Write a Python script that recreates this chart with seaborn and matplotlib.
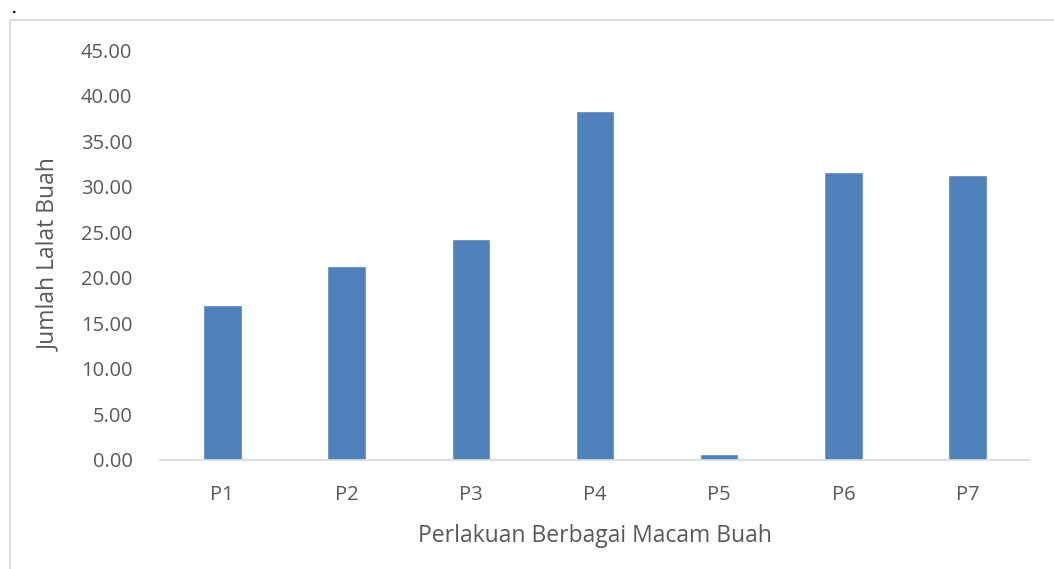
import matplotlib
matplotlib.use("Agg")
import matplotlib.pyplot as plt
from matplotlib.lines import Line2D
import seaborn as sns
import pandas as pd

# data
perlakuan = ["P1", "P2", "P3", "P4", "P5", "P6", "P7"]
jumlah = [17.0, 21.3, 24.3, 38.3, 0.7, 31.6, 31.3]
yticks = [0, 5, 10, 15, 20, 25, 30, 35, 40, 45]

df = pd.DataFrame({"Perlakuan": perlakuan, "Jumlah": jumlah})

sns.set_style("white")
plt.rcParams["font.family"] = ["Open Sans", "DejaVu Sans"]
grey = "#595959"

fig = plt.figure(figsize=(10.54, 5.69), dpi=100)
ax = fig.add_axes([0.152, 0.1916, 0.825, 0.7204])

sns.barplot(data=df, x="Perlakuan", y="Jumlah", color="#4F81BD",
            width=0.31, saturation=1, ax=ax)

ax.set_ylim(0, 45)
ax.set_xlim(-0.5, 6.5)
ax.set_yticks(yticks)
ax.set_yticklabels([f"{v:.2f}" for v in yticks])
ax.tick_params(axis="both", length=0, labelsize=14.5, colors=grey)
ax.tick_params(axis="y", pad=20)
ax.tick_params(axis="x", pad=18)

for s in ["top", "right", "left"]:
    ax.spines[s].set_visible(False)
ax.spines["bottom"].set_color("#d9d9d9")
ax.spines["bottom"].set_linewidth(1.2)

ax.set_xlabel("Perlakuan Berbagai Macam Buah", fontsize=16.5, color=grey, labelpad=14)
ax.set_ylabel("Jumlah Lalat Buah", fontsize=16.5, color=grey, labelpad=14)

# chart area frame (top and left edges visible)
W, H = 1054, 569
fig.add_artist(Line2D([10 / W, 1.0], [1 - 20 / H, 1 - 20 / H], color="#d9d9d9", lw=1.2))
fig.add_artist(Line2D([10 / W, 10 / W], [0.0, 1 - 20 / H], color="#d9d9d9", lw=1.2))
fig.text(13 / W, 1 - 9 / H, ".", fontsize=11, fontweight="bold", color="black",
         ha="center", va="center")

fig.savefig("out.png", dpi=100)
